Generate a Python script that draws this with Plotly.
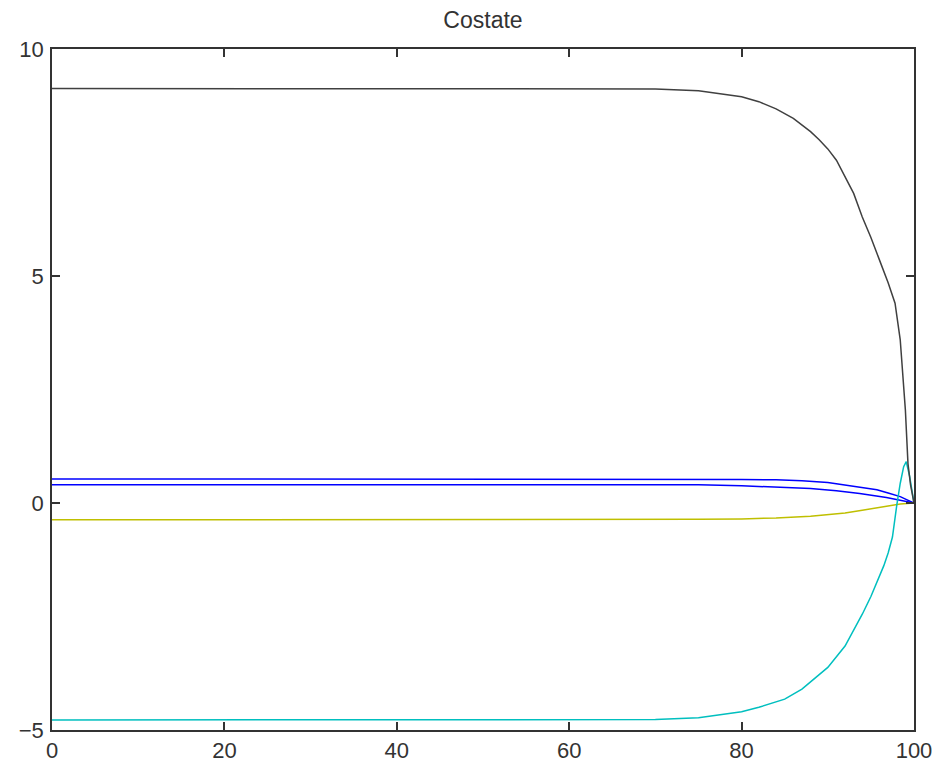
import plotly.graph_objects as go

# ---- data ----
x_black = [0, 60, 70, 75, 80, 82, 84, 86, 88, 89, 90, 91, 92, 93, 94, 95, 96, 97, 97.8, 98.4, 99.0, 99.3, 99.6, 100]
y_black = [9.13, 9.13, 9.12, 9.08, 8.95, 8.84, 8.68, 8.47, 8.18, 8.0, 7.8, 7.55, 7.2, 6.82, 6.3, 5.85, 5.35, 4.85, 4.4, 3.6, 2.05, 0.87, 0.4, 0.0]

x_cyan = [0, 65, 70, 75, 80, 82, 85, 87, 90, 92, 93, 94, 95, 96, 96.5, 97, 97.5, 98, 98.4, 98.8, 99.1, 99.5, 100]
y_cyan = [-4.78, -4.78, -4.77, -4.73, -4.6, -4.5, -4.32, -4.1, -3.62, -3.15, -2.8, -2.45, -2.06, -1.62, -1.38, -1.1, -0.75, -0.05, 0.43, 0.8, 0.91, 0.58, 0.0]

x_blue1 = [0, 75, 80, 84, 87, 90, 93, 95.7, 97, 98.4, 100]
y_blue1 = [0.53, 0.53, 0.52, 0.51, 0.49, 0.45, 0.37, 0.29, 0.22, 0.14, 0.0]

x_blue2 = [0, 75, 80, 84, 88, 91, 93.7, 96.8, 98.5, 100]
y_blue2 = [0.40, 0.40, 0.38, 0.35, 0.32, 0.27, 0.21, 0.12, 0.06, 0.0]

x_yel = [0, 70, 75, 80, 84, 88, 90, 92, 94, 96, 97, 98.4, 100]
y_yel = [-0.37, -0.37, -0.36, -0.35, -0.33, -0.29, -0.26, -0.22, -0.16, -0.1, -0.07, -0.02, 0.0]

x_ticks = [0, 20, 40, 60, 80, 100]
y_ticks = [-5, 0, 5, 10]

fig = go.Figure()
series = [
    (x_blue1, y_blue1, "#0000FF"),
    (x_blue2, y_blue2, "#0000FF"),
    (x_yel, y_yel, "#BFBF00"),
    (x_cyan, y_cyan, "#00BFBF"),
    (x_black, y_black, "#404040"),
]
for xs, ys, c in series:
    fig.add_trace(go.Scatter(x=xs, y=ys, mode="lines", line=dict(color=c, width=1.5), showlegend=False, hoverinfo="skip"))

font = dict(family="Liberation Sans, Arial, sans-serif", size=22, color="#333333")
axis_common = dict(showline=True, linecolor="#333333", linewidth=1.5, mirror="ticks", ticks="inside",
                   ticklen=8, tickwidth=1.5, tickcolor="#333333", showgrid=False, zeroline=False,
                   tickfont=font, automargin=False)

fig.update_layout(
    width=940, height=766,
    margin=dict(l=52, r=26, t=49, b=36),
    paper_bgcolor="white", plot_bgcolor="white",
    title=dict(text="Costate", x=0.5, xanchor="center", xref="paper", y=1 - 20 / 766, yanchor="middle", yref="container",
               font=dict(family="Liberation Sans, Arial, sans-serif", size=23, color="#333333"), automargin=False),
    xaxis=dict(range=[0, 100], tickvals=x_ticks, ticklabelstandoff=0, **axis_common),
    yaxis=dict(range=[-5, 10], tickvals=y_ticks, ticklabelstandoff=2, **axis_common),
)
fig.write_html("out.html")
